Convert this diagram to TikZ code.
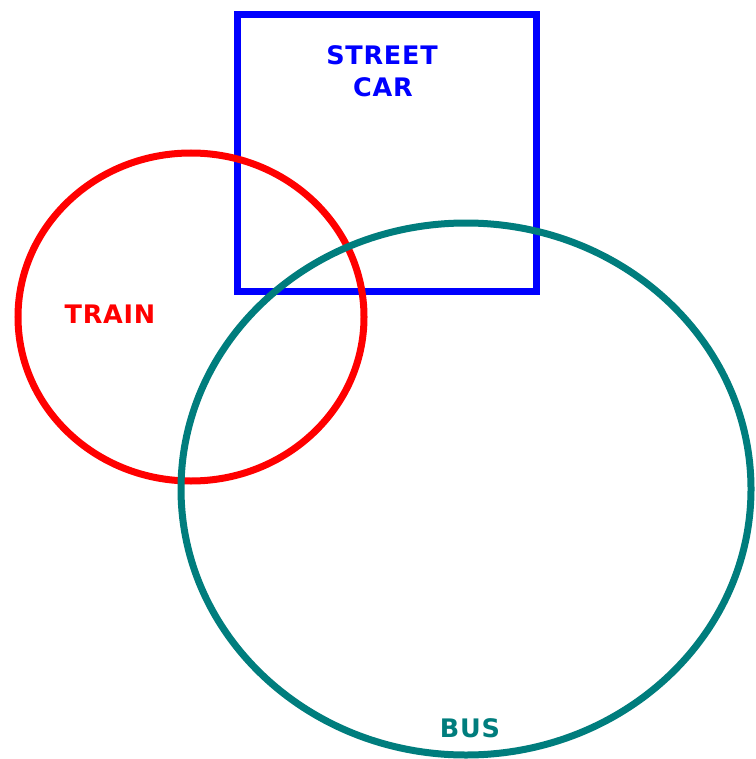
\documentclass[tikz,border=0pt]{standalone}
\usepackage{fontspec}
\newfontfamily\labfont[LetterSpace=3]{DejaVu Sans}
\definecolor{sqblue}{RGB}{0,0,255}
\definecolor{trred}{RGB}{255,0,0}
\definecolor{busteal}{RGB}{0,125,125}
\begin{document}
\begin{tikzpicture}[x=1pt,y=-1pt,
  shapeline/.style={line width=7pt},
  lab/.style={inner sep=0pt,anchor=base,font=\labfont\bfseries\fontsize{25.5}{33}\selectfont}]
\useasboundingbox (0,0) rectangle (755,759);
\fill[white] (0,0) rectangle (755,759);
\draw[shapeline,sqblue] (237,14.5) rectangle (536,291);
\draw[shapeline,trred] (191,317) ellipse [x radius=173, y radius=164];
\draw[shapeline,busteal] (466,489) ellipse [x radius=285, y radius=266];
\node[lab,text=sqblue] (street) at (382,65) {STREET};
\node[lab,text=sqblue] (car) at (383,97) {CAR};
\node[lab,text=trred] (train) at (110,323) {TRAIN};
\node[lab,text=busteal] (bus) at (470,737) {BUS};
\end{tikzpicture}
\end{document}
